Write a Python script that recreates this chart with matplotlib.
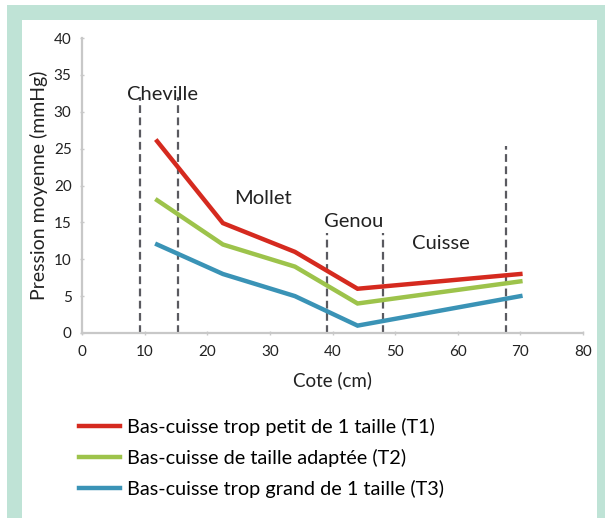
import matplotlib
matplotlib.use("Agg")
import matplotlib.pyplot as plt
from matplotlib.patches import Rectangle

plt.rcParams['font.family'] = ['Lato', 'DejaVu Sans']

# data
x_cm = [12, 22.5, 34, 44, 70]
t1 = [26, 14.9, 11, 6, 8]
t2 = [18, 12, 9, 4, 7]
t3 = [12, 8, 5, 1, 5]
labels = ['Bas-cuisse trop petit de 1 taille (T1)',
          'Bas-cuisse de taille adaptée (T2)',
          'Bas-cuisse trop grand de 1 taille (T3)']
colors = ['#d52a1f', '#9dc34b', '#3a93b6']

# zone limits (dashed lines) and their heights
zone_x = [9.3, 15.3, 39.1, 48.1, 67.7]
zone_top = [32, 32, 13.6, 13.6, 25.3]
zone_names = ['Cheville', 'Mollet', 'Genou', 'Cuisse']
zone_name_x = [12.9, 28.9, 43.3, 57.3]
zone_name_y = [32.4, 18.3, 15.1, 12.2]

fig = plt.figure(figsize=(6.05, 5.18), dpi=100)
W, H = 605, 518
# green frame
fig.patches.append(Rectangle((7 / W, 0), 598 / W, 513 / H, transform=fig.transFigure,
                             facecolor='#bfe3d6', edgecolor='none', zorder=-2))
fig.patches.append(Rectangle((22 / W, 0), 575 / W, 498 / H, transform=fig.transFigure,
                             facecolor='white', edgecolor='none', zorder=-1))

ax = fig.add_axes([82 / W, (518 - 333) / H, 501 / W, 295 / H])
ax.patch.set_alpha(0)

for xv, top in zip(zone_x, zone_top):
    ax.plot([xv, xv], [0, top], color='#5a5a60', lw=1.6, ls=(0, (3.5, 2)), zorder=2)

for y, c, lab in zip([t1, t2, t3], colors, labels):
    ax.plot(x_cm, y, color=c, lw=3.2, label=lab, zorder=3, solid_joinstyle='miter')

for name, xv, yv in zip(zone_names, zone_name_x, zone_name_y):
    ax.text(xv, yv, name, fontsize=14.5, ha='center', va='center', color='#222222')

ax.set_xlim(0, 80)
ax.set_ylim(0, 40)
ax.set_xticks(range(0, 81, 10))
ax.set_yticks(range(0, 41, 5))
for s in ['top', 'right']:
    ax.spines[s].set_visible(False)
for s in ['left', 'bottom']:
    ax.spines[s].set_color('#c8c8c8')
    ax.spines[s].set_linewidth(1.6)
ax.tick_params(colors='#c8c8c8', labelcolor='#222222', labelsize=11, length=3,
               direction='inout', width=1)
ax.tick_params(axis='x', pad=7)
ax.tick_params(axis='y', pad=6)
ax.set_xlabel('Cote (cm)', fontsize=13.5, color='#222222', labelpad=9)
ax.set_ylabel('Pression moyenne (mmHg)', fontsize=14, color='#222222', labelpad=4)

ax.legend(loc='upper left', bbox_to_anchor=(79 / W, 1 - 418 / H),
          bbox_transform=fig.transFigure, frameon=False, fontsize=14.3,
          handlelength=2.05, handletextpad=0.35, labelspacing=0.65,
          borderaxespad=0, borderpad=0)

fig.savefig('out.png', dpi=100)
